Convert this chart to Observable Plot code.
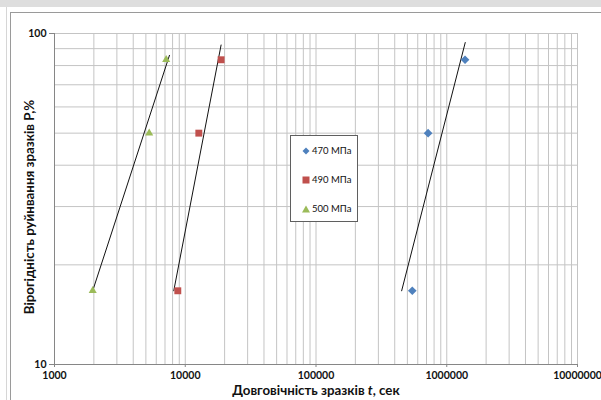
<!DOCTYPE html>
<html><head><meta charset="utf-8">
<script src="https://cdn.jsdelivr.net/npm/d3@7"></script>
<script src="https://cdn.jsdelivr.net/npm/@observablehq/plot@0.6"></script>
<style>
body{margin:0;background:#fff;}
#wrap{position:relative;width:601px;height:400px;overflow:hidden;background:#fff;font-family:Lato,"Noto Sans",sans-serif;color:#111;}
#topstrip{position:absolute;left:0;top:0;width:601px;height:7px;background:#dedede;}
#docline{position:absolute;left:6px;top:7px;width:0;height:393px;border-left:1px solid #d6d6d6;}
#frame{position:absolute;left:10px;top:12px;width:620px;height:420px;border:1px solid #9a9a9a;}
#chart{position:absolute;left:0;top:0;}
.ytitle{position:absolute;left:29px;top:207px;transform:translate(-50%,-50%) rotate(-90deg);white-space:nowrap;font-weight:bold;font-size:13.3px;}
.xtitle{position:absolute;left:316px;top:390px;transform:translate(-50%,-50%);white-space:nowrap;font-weight:bold;font-size:13.3px;}
#legend{position:absolute;left:290px;top:135px;width:66px;height:85px;border:1.5px solid #5f5f5f;background:#fff;}
.li{position:absolute;left:0;height:12px;font-size:9.5px;line-height:12px;white-space:nowrap;}
.li svg{position:absolute;left:11px;top:2px;}
.li span{position:absolute;left:21px;top:0;}
</style>
</head><body>
<div id="wrap">
  <div id="topstrip"></div>
  <div id="docline"></div>
  <div id="frame"></div>
  <div id="chart"></div>
  <div class="ytitle">Вірогідність руйнвання зразків P,%</div>
  <div class="xtitle">Довговічність зразків <i>t</i>, сек</div>
  <div id="legend"></div>
</div>
<script>
// Series: failure probability P (%) vs durability t (s)
const seriesNames = ["470 МПа", "490 МПа", "500 МПа"];
const seriesColors = ["#4f81bd", "#c0504d", "#9bbb59"];
const probP = [16.7, 50, 83.3];
const t470 = [545000, 720000, 1380000];
const t490 = [8770, 12700, 18800];
const t500 = [1960, 5300, 7150];
// Trend lines (two end points each)
const trendT470 = [452000, 1385000];
const trendP470 = [16.7, 93.9];
const trendT490 = [8170, 18800];
const trendP490 = [16.7, 92.3];
const trendT500 = [1960, 7570];
const trendP500 = [16.7, 85.9];
// Axis ticks and grid
const xTicks = [1000, 10000, 100000, 1000000, 10000000];
const yTicks = [10, 100];
const yGrid = [20, 30, 40, 50, 60, 70, 80, 90, 100];
const xGridMult = [1, 2, 3, 4, 5, 6, 7, 8, 9];

const xGrid = [];
for (const d of [1000, 10000, 100000, 1000000]) for (const m of xGridMult) xGrid.push(d * m);
xGrid.push(10000000);

const pts = (ts, name) => ts.map((t, i) => ({t, p: probP[i], s: name}));
const trend = (ts, ps, name) => ts.map((t, i) => ({t, p: ps[i], s: name}));

const d470 = pts(t470, seriesNames[0]);
const d490 = pts(t490, seriesNames[1]);
const d500 = pts(t500, seriesNames[2]);
const tr = [
  ...trend(trendT470, trendP470, seriesNames[0]),
  ...trend(trendT490, trendP490, seriesNames[1]),
  ...trend(trendT500, trendP500, seriesNames[2])
];

const chart = Plot.plot({
  width: 601,
  height: 400,
  marginLeft: 54,
  marginRight: 24,
  marginTop: 33,
  marginBottom: 36,
  style: {fontFamily: "Lato, 'Noto Sans', sans-serif", fontSize: "10.5px", fontWeight: "bold", background: "transparent", color: "#111"},
  x: {type: "log", domain: [1000, 10000000], axis: null},
  y: {type: "log", domain: [10, 100], axis: null},
  marks: [
    Plot.ruleX(xGrid, {stroke: "#c4c4c4", strokeWidth: 1}),
    Plot.ruleY(yGrid, {stroke: "#c4c4c4", strokeWidth: 1}),
    Plot.ruleX([1000], {stroke: "#868686"}),
    Plot.ruleY([10], {stroke: "#868686"}),
    Plot.axisX({ticks: xTicks, tickFormat: d => String(d), tickSize: 3, tickPadding: 4, stroke: "#868686", fill: "#111", label: null}),
    Plot.axisY({ticks: yTicks, tickFormat: d => String(d), tickSize: 5, tickPadding: 3, stroke: "#868686", fill: "#111", label: null}),
    Plot.line(tr, {x: "t", y: "p", z: "s", stroke: "#111", strokeWidth: 1}),
    Plot.dot(d470, {x: "t", y: "p", symbol: "diamond2", r: 3.9, fill: seriesColors[0], stroke: "none"}),
    Plot.dot(d490, {x: "t", y: "p", symbol: "square", r: 3.9, fill: seriesColors[1], stroke: "none"}),
    Plot.dot(d500, {x: "t", y: "p", symbol: "triangle", r: 3, fill: seriesColors[2], stroke: "none"})
  ]
});
document.getElementById("chart").appendChild(chart);

// Legend
const legend = document.getElementById("legend");
const shapes = [
  c => `<polygon points="4,0.5 7.5,4 4,7.5 0.5,4" fill="${c}"/>`,
  c => `<rect x="0.5" y="0.5" width="7" height="7" fill="${c}"/>`,
  c => `<polygon points="4,0.5 8,7.5 0,7.5" fill="${c}"/>`
];
const itemTops = [9, 38, 67];
seriesNames.forEach((name, i) => {
  const div = document.createElement("div");
  div.className = "li";
  div.style.top = itemTops[i] + "px";
  div.innerHTML = `<svg width="8" height="8" viewBox="0 0 8 8">${shapes[i](seriesColors[i])}</svg><span>${name}</span>`;
  legend.appendChild(div);
});
</script>
</body></html>
